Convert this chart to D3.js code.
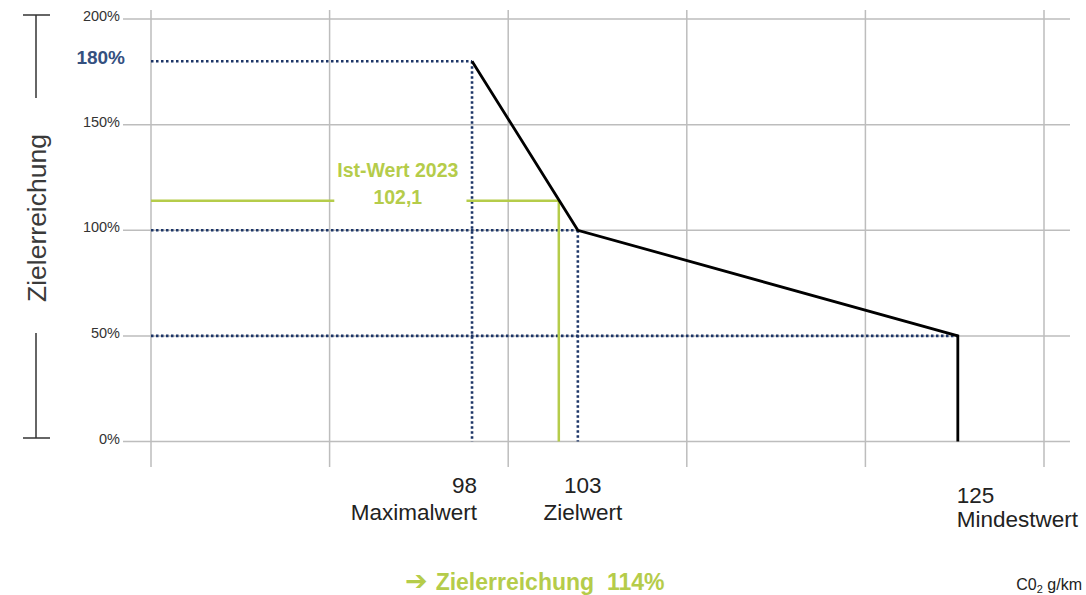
<!DOCTYPE html>
<html lang="de">
<head>
<meta charset="utf-8">
<script src="https://cdn.jsdelivr.net/npm/d3@7"></script>
<style>
  html, body { margin: 0; padding: 0; background: #fff; }
  svg { display: block; font-family: "Liberation Sans", Arial, sans-serif; }
</style>
</head>
<body>
<svg id="chart" width="1086" height="595"></svg>
<script>
// --- data ---------------------------------------------------------------
const yTicks = [0, 50, 100, 150, 200];              // Zielerreichung in %
const gridColumns = [0, 1, 2, 3, 4, 5];             // vertical grid lines
const curveCO2 = [98, 103, 125, 125];               // g/km
const curvePct = [180, 100, 50, 0];                 // Zielerreichung in %
const refNames = ["Maximalwert", "Zielwert", "Mindestwert"];
const refCO2 = [98, 103, 125];
const refPct = [180, 100, 50];
const istYear = 2023;
const istWert = 102.1;                              // g/km
const zielerreichung = 114;                         // %

// --- layout -------------------------------------------------------------
const svg = d3.select("#chart");
const plot = { left: 151, right: 1044, top: 19, bottom: 441.5 };
const plotW = plot.right - plot.left;

const colors = {
  grid: "#bdbdbd",
  navy: "#1c3567",
  navyText: "#34507f",
  green: "#b5cc4a",
  text: "#333333",
  line: "#000000"
};

const y = d3.scaleLinear().domain([0, 200]).range([plot.bottom, plot.top]);
// grid columns spread evenly across the plot
const gx = d3.scaleLinear().domain([0, 5]).range([plot.left, plot.right]);
// CO2 axis is schematic: piecewise linear between the three reference values
const x = d3.scaleLinear()
  .domain(refCO2)
  .range([0.3595, 0.478, 0.9035].map(f => plot.left + f * plotW));

const de = d3.formatLocale({ decimal: ",", thousands: ".", grouping: [3], currency: ["", " €"] });
const fmt1 = de.format(".1f");

// --- grid ---------------------------------------------------------------
svg.append("g").selectAll("line").data(gridColumns).join("line")
  .attr("x1", d => gx(d)).attr("x2", d => gx(d))
  .attr("y1", 10).attr("y2", 467)
  .attr("stroke", colors.grid).attr("stroke-width", 1.5);

svg.append("g").selectAll("line").data(yTicks).join("line")
  .attr("x1", 123).attr("x2", 1070)
  .attr("y1", d => y(d)).attr("y2", d => y(d))
  .attr("stroke", colors.grid).attr("stroke-width", 1.5);

// y tick labels
svg.append("g").selectAll("text").data(yTicks).join("text")
  .attr("x", 120).attr("y", d => y(d) - 3)
  .attr("text-anchor", "end").attr("dominant-baseline", "central")
  .attr("font-size", 14.5).attr("fill", colors.text)
  .text(d => d + "%");

// --- dotted reference lines ---------------------------------------------
const dotted = svg.append("g")
  .attr("stroke", colors.navy).attr("stroke-width", 2.6)
  .attr("stroke-dasharray", "2.5 2.5").attr("fill", "none");

refCO2.forEach((v, i) => {
  dotted.append("line")
    .attr("x1", plot.left).attr("x2", x(v))
    .attr("y1", y(refPct[i])).attr("y2", y(refPct[i]));
  if (i < refCO2.length - 1) {
    dotted.append("line")
      .attr("x1", x(v)).attr("x2", x(v))
      .attr("y1", y(refPct[i])).attr("y2", y(0));
  }
});

// label for the maximum level
svg.append("text")
  .attr("x", 125).attr("y", y(refPct[0]) - 4)
  .attr("text-anchor", "end").attr("dominant-baseline", "central")
  .attr("font-size", 19).attr("font-weight", "bold").attr("fill", colors.navyText)
  .text(refPct[0] + "%");

// --- Ist-Wert marker ----------------------------------------------------
const istLabelX = (gx(1) + x(refCO2[0])) / 2 - 3;
const istLabel = svg.append("text")
  .attr("text-anchor", "middle")
  .attr("font-size", 19.5).attr("font-weight", "bold").attr("fill", colors.green);
istLabel.append("tspan").attr("x", istLabelX).attr("y", 177).text("Ist-Wert " + istYear);
istLabel.append("tspan").attr("x", istLabelX).attr("y", 204).text(fmt1(istWert));

const bb = istLabel.node().getBBox();
const gapL = bb.x - 3, gapR = bb.x + bb.width + 8;
const green = svg.append("g").attr("stroke", colors.green).attr("stroke-width", 2.5).attr("fill", "none");
green.append("line")
  .attr("x1", plot.left).attr("x2", gapL)
  .attr("y1", y(zielerreichung)).attr("y2", y(zielerreichung));
green.append("path")
  .attr("d", d3.line()([
    [gapR, y(zielerreichung)],
    [x(istWert), y(zielerreichung)],
    [x(istWert), y(0)]
  ]));

// --- Zielerreichungskurve ----------------------------------------------
svg.append("path")
  .datum(d3.zip(curveCO2, curvePct))
  .attr("d", d3.line().x(d => x(d[0])).y(d => y(d[1])))
  .attr("fill", "none").attr("stroke", colors.line).attr("stroke-width", 2.8)
  .attr("stroke-linejoin", "miter");

// --- x reference labels -------------------------------------------------
const refLabelCfg = [
  { anchor: "end", dx: 5, y1: 493, y2: 520 },
  { anchor: "middle", dx: 5, y1: 493, y2: 520 },
  { anchor: "start", dx: -1, y1: 503, y2: 527 }
];
refCO2.forEach((v, i) => {
  const c = refLabelCfg[i];
  const t = svg.append("text")
    .attr("text-anchor", c.anchor).attr("font-size", 22.5).attr("fill", "#222");
  t.append("tspan").attr("x", x(v) + c.dx).attr("y", c.y1).text(v);
  t.append("tspan").attr("x", x(v) + c.dx).attr("y", c.y2).text(refNames[i]);
});

// --- y axis title with bracket -------------------------------------------
const bracket = svg.append("g").attr("stroke", "#333").attr("stroke-width", 1.5);
bracket.append("line").attr("x1", 36).attr("x2", 36).attr("y1", 15).attr("y2", 98);
bracket.append("line").attr("x1", 23).attr("x2", 50).attr("y1", 15).attr("y2", 15);
bracket.append("line").attr("x1", 36).attr("x2", 36).attr("y1", 333).attr("y2", 438);
bracket.append("line").attr("x1", 23).attr("x2", 50).attr("y1", 438).attr("y2", 438);

svg.append("text")
  .attr("transform", "translate(37,218) rotate(-90)")
  .attr("text-anchor", "middle").attr("dominant-baseline", "central")
  .attr("font-size", 26.5).attr("fill", "#3a3a3a")
  .text("Zielerreichung");

// --- footer -------------------------------------------------------------
const result = svg.append("text")
  .attr("x", 405).attr("y", 590)
  .attr("font-size", 23).attr("font-weight", "bold").attr("fill", colors.green);
result.append("tspan").attr("font-family", "DejaVu Sans, sans-serif").attr("font-size", 27).text("\u2794");
result.append("tspan").attr("dx", 8).text("Zielerreichung\u00a0\u00a0" + zielerreichung + "%");

const unit = svg.append("text")
  .attr("x", 1082).attr("y", 590)
  .attr("text-anchor", "end").attr("font-size", 16).attr("fill", "#222");
unit.append("tspan").text("C0");
unit.append("tspan").attr("font-size", 11).attr("dy", 3).text("2");
unit.append("tspan").attr("dy", -3).text(" g/km");
</script>
</body>
</html>
